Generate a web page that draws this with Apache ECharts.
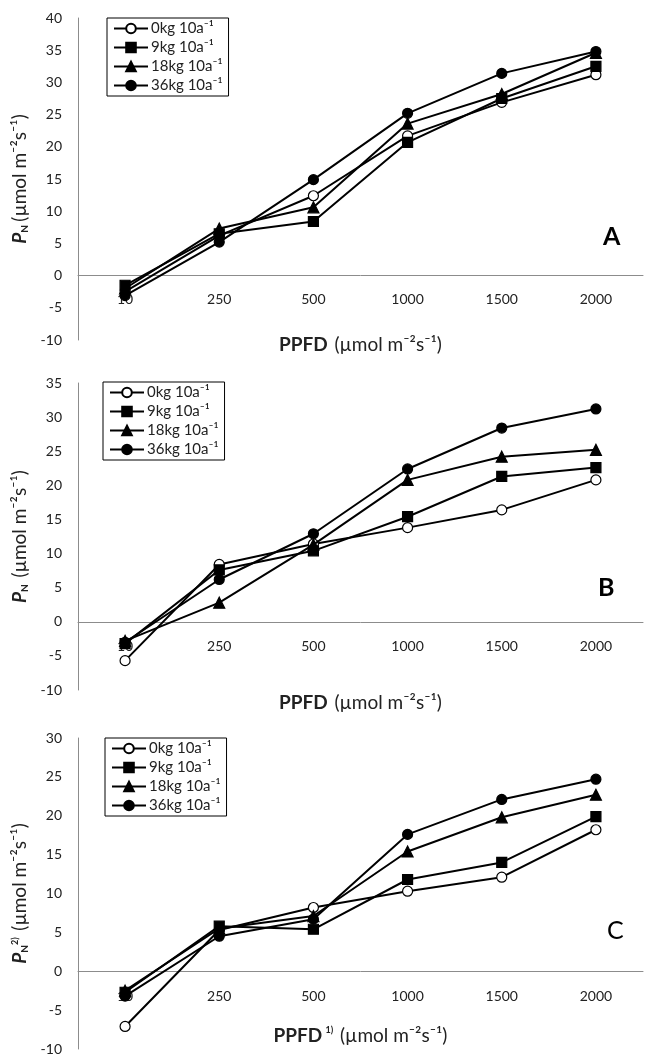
<!DOCTYPE html>
<html>
<head>
<meta charset="utf-8">
<script src="https://cdn.jsdelivr.net/npm/echarts@6/dist/echarts.min.js"></script>
<style>
  html, body { margin: 0; padding: 0; background: #fff; }
  #chart { width: 653px; height: 1056px; }
</style>
</head>
<body>
<div id="chart"></div>
<script>
// 光量子束密度 categories
var ppfd = ["10", "250", "500", "1000", "1500", "2000"];
var names = ["0kg 10a\u207B\u00B9", "9kg 10a\u207B\u00B9", "18kg 10a\u207B\u00B9", "36kg 10a\u207B\u00B9"];

// panel A
var a0 = [-2.5, 6.2, 12.4, 21.7, 26.9, 31.2];
var a9 = [-1.5, 6.5, 8.4, 20.7, 27.5, 32.5];
var a18 = [-2.0, 7.3, 10.6, 23.6, 28.2, 34.6];
var a36 = [-3.1, 5.2, 14.9, 25.2, 31.4, 34.8];
// panel B
var b0 = [-5.7, 8.4, 11.4, 13.8, 16.4, 20.8];
var b9 = [-3.2, 7.6, 10.4, 15.4, 21.3, 22.6];
var b18 = [-2.8, 2.8, 11.3, 20.8, 24.2, 25.2];
var b36 = [-3.0, 6.2, 12.9, 22.4, 28.4, 31.2];
// panel C
var c0 = [-7.1, 5.3, 8.2, 10.3, 12.1, 18.2];
var c9 = [-2.7, 5.8, 5.4, 11.8, 14.0, 19.9];
var c18 = [-2.5, 5.5, 7.1, 15.4, 19.8, 22.7];
var c36 = [-3.2, 4.5, 6.7, 17.6, 22.1, 24.7];

var yMax = [40, 35, 30];
var panelLabels = ["A", "B", "C"];

var font = "Lato, 'Noto Sans', sans-serif";
var txt = "#222";

var grids = [
  { left: 78, right: 10, top: 18, height: 322 },
  { left: 78, right: 10, top: 383, height: 307 },
  { left: 78, right: 10, top: 738, height: 311 }
];

var symbols = [
  { symbol: "circle", size: 10, fill: "#fff" },
  { symbol: "rect", size: 10, fill: "#000" },
  { symbol: "triangle", size: 11, fill: "#000" },
  { symbol: "circle", size: 10, fill: "#000" }
];

// labels sit just under the zero line
var labelMargins = [-48, -51, -60];
var xGaps = [-5, 3, -23];
var xNames = [
  "{b|PPFD}  {n|(\u00B5mol m\u207B\u00B2s\u207B\u00B9)}",
  "{b|PPFD}  {n|(\u00B5mol m\u207B\u00B2s\u207B\u00B9)}",
  "{b|PPFD} {s|1)}  {n|(\u00B5mol m\u207B\u00B2s\u207B\u00B9)}"
];
var yNames = [
  "{p|P}{sub|N} {n|(\u00B5mol m\u207B\u00B2s\u207B\u00B9)}",
  "{p|P}{sub|N}  {n|(\u00B5mol m\u207B\u00B2s\u207B\u00B9)}",
  "{p|P}{sub|N}{s|2)}  {n|(\u00B5mol m\u207B\u00B2s\u207B\u00B9)}"
];
var richName = {
  b: { fontFamily: font, fontSize: 19, fontWeight: "bold", color: txt },
  n: { fontFamily: font, fontSize: 19, color: txt },
  p: { fontFamily: font, fontSize: 19, fontWeight: "bold", fontStyle: "italic", color: txt },
  sub: { fontFamily: font, fontSize: 10, fontWeight: "bold", color: txt, verticalAlign: "bottom" },
  s: { fontFamily: font, fontSize: 9, fontWeight: "bold", color: txt, verticalAlign: "top" }
};

var xAxes = [], yAxes = [], series = [], legends = [], graphics = [];
var panels = [[a0, a9, a18, a36], [b0, b9, b18, b36], [c0, c9, c18, c36]];
var legendPos = [
  { left: 107, top: 18 },
  { left: 103, top: 382 },
  { left: 105, top: 738 }
];
var labelPos = [
  { left: 603, top: 224, bold: true },
  { left: 598, top: 575, bold: true },
  { left: 607, top: 918, bold: false }
];

for (var i = 0; i < 3; i++) {
  xAxes.push({
    gridIndex: i,
    type: "category",
    data: ppfd,
    boundaryGap: true,
    axisLine: { onZero: true, lineStyle: { color: "#8c8c8c", width: 1 } },
    axisTick: { show: false },
    axisLabel: { fontFamily: font, fontSize: 14, color: txt, margin: labelMargins[i] },
    name: xNames[i],
    nameLocation: "middle",
    nameGap: xGaps[i],
    nameTextStyle: { rich: richName }
  });
  yAxes.push({
    gridIndex: i,
    type: "value",
    min: -10,
    max: yMax[i],
    interval: 5,
    axisLine: { show: true, lineStyle: { color: "#8c8c8c", width: 1 } },
    axisTick: { show: false },
    splitLine: { show: false },
    axisLabel: { fontFamily: font, fontSize: 14, color: txt, margin: 16 },
    name: yNames[i],
    nameLocation: "middle",
    nameGap: 44,
    nameRotate: 90,
    nameTextStyle: { rich: richName }
  });
  for (var k = 0; k < 4; k++) {
    series.push({
      name: names[k],
      type: "line",
      xAxisIndex: i,
      yAxisIndex: i,
      data: panels[i][k],
      symbol: symbols[k].symbol,
      symbolSize: symbols[k].size,
      lineStyle: { color: "#000", width: 2 },
      itemStyle: { color: symbols[k].fill, borderColor: "#000", borderWidth: 1.2 },
      z: 2 + k
    });
  }
  legends.push({
    data: names,
    left: legendPos[i].left,
    top: legendPos[i].top,
    orient: "vertical",
    itemGap: 4,
    itemWidth: 34,
    itemHeight: 12,
    padding: [3, 6, 3, 6],
    borderColor: "#000",
    borderWidth: 1,
    selectedMode: false,
    textStyle: { fontFamily: font, fontSize: 15, color: txt, padding: [0, 0, 0, -2] }
  });
  graphics.push({
    type: "text",
    left: labelPos[i].left,
    top: labelPos[i].top,
    style: {
      text: panelLabels[i],
      font: (labelPos[i].bold ? "bold " : "") + "25px " + font,
      fill: "#000"
    }
  });
}

var myChart = echarts.init(document.getElementById("chart"));
myChart.setOption({
  backgroundColor: "#fff",
  animation: false,
  grid: grids,
  xAxis: xAxes,
  yAxis: yAxes,
  legend: legends,
  series: series,
  graphic: graphics
});
</script>
</body>
</html>
